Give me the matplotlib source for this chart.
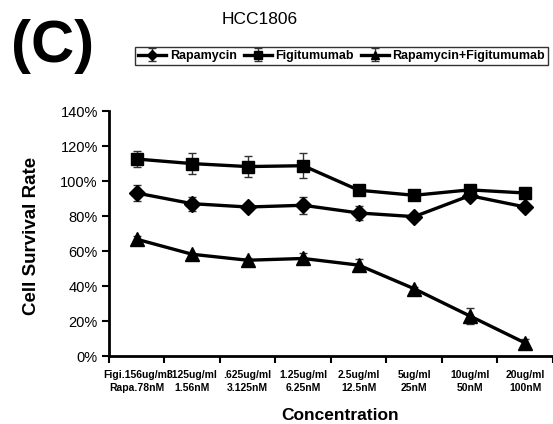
import matplotlib
matplotlib.use("Agg")
import matplotlib.pyplot as plt
import numpy as np

categories = ["Figi.156ug/ml\nRapa.78nM", "3125ug/ml\n1.56nM", ".625ug/ml\n3.125nM",
              "1.25ug/ml\n6.25nM", "2.5ug/ml\n12.5nM", "5ug/ml\n25nM",
              "10ug/ml\n50nM", "20ug/ml\n100nM"]
rapamycin = [93.2, 87.1, 85.2, 86.2, 81.8, 79.7, 91.7, 85.2]
rapamycin_err = [4.5, 4.0, 1.0, 5.0, 4.0, 1.0, 2.0, 1.0]
figitumumab = [112.6, 110.0, 108.3, 108.8, 94.8, 91.9, 95.0, 93.2]
figitumumab_err = [4.5, 6.0, 6.0, 7.0, 1.0, 1.0, 1.0, 1.0]
combo = [66.8, 58.2, 54.8, 55.8, 52.0, 38.5, 23.0, 7.5]
combo_err = [2.0, 1.0, 1.0, 3.0, 3.5, 1.0, 4.5, 2.5]

plt.rcParams['font.family'] = ['Liberation Sans', 'DejaVu Sans']

fig = plt.figure(figsize=(5.53, 4.24), dpi=100)
ax = fig.add_axes([0.197, 0.160, 1.0 - 0.197, 0.578])

x = np.arange(len(categories))
kw = dict(color='black', lw=2.4, capsize=3, elinewidth=1.0, ecolor='#333333', capthick=1.0)
l1 = ax.errorbar(x, rapamycin, yerr=rapamycin_err, marker='D', ms=8, label='Rapamycin', **kw)
l2 = ax.errorbar(x, figitumumab, yerr=figitumumab_err, marker='s', ms=9, label='Figitumumab', **kw)
l3 = ax.errorbar(x, combo, yerr=combo_err, marker='^', ms=10, label='Rapamycin+Figitumumab', **kw)

ax.set_xlim(-0.5, 7.43)
ax.set_ylim(0, 140)
ax.set_yticks(np.arange(0, 141, 20))
ax.set_yticklabels([f"{v}%" for v in range(0, 141, 20)], fontsize=10.5)
ax.set_xticks(np.arange(-0.5, 8.0, 1.0))
ax.set_xticklabels([])
ax.set_xticks(x, minor=True)
ax.set_xticklabels(categories, minor=True, fontsize=7.5, fontweight='bold',
                   family=['Liberation Sans Narrow', 'Liberation Sans'], linespacing=1.4)
ax.tick_params(axis='x', which='minor', length=0, pad=10)
ax.tick_params(axis='x', which='major', length=5, width=1.5, direction='out')
ax.tick_params(axis='y', length=5, width=1.5, direction='out', pad=3)
for s in ['top', 'right']:
    ax.spines[s].set_visible(False)
for s in ['left', 'bottom']:
    ax.spines[s].set_linewidth(2)

ax.set_ylabel("Cell Survival Rate", fontsize=13.5, fontweight='bold')
ax.yaxis.set_label_coords(-0.155, 0.49)
ax.set_xlabel("Concentration", fontsize=12.5, fontweight='bold')
ax.xaxis.set_label_coords(0.52, -0.213)

fig.text(0.47, 0.955, "HCC1806", ha='center', va='center', fontsize=12.5)
fig.text(0.02, 0.89, "(C)", ha='left', va='center', fontsize=43, fontweight='bold',
         family=['Liberation Sans Narrow', 'Liberation Sans'])

leg = fig.legend(handles=[l1, l2, l3], loc='center', bbox_to_anchor=(0.618, 0.868),
                 ncol=3, frameon=True, fancybox=False, edgecolor='black',
                 prop={'weight': 'bold', 'size': 9, 'family': ['Liberation Sans Narrow', 'Liberation Sans']},
                 handlelength=2.2, handletextpad=0.3, columnspacing=0.6, borderpad=0.25,
                 markerscale=0.6)
leg.get_frame().set_linewidth(1.0)

fig.savefig("out.png", dpi=100)
